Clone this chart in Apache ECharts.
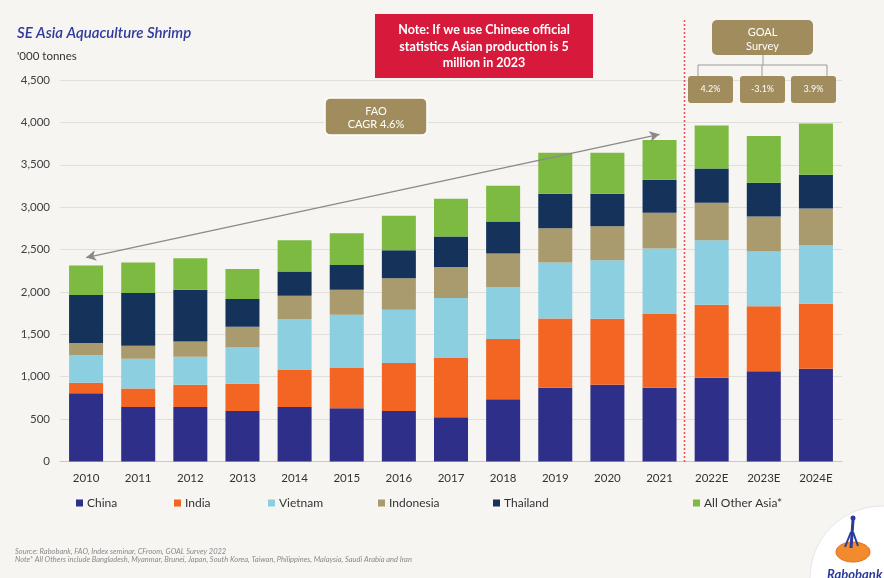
<!DOCTYPE html>
<html>
<head>
<meta charset="utf-8">
<script src="https://cdn.jsdelivr.net/npm/echarts@6/dist/echarts.min.js"></script>
<style>
  html, body { margin: 0; padding: 0; background: #f6f5f2; }
  #chart { width: 884px; height: 578px; }
</style>
</head>
<body>
<div id="chart"></div>
<script>
// Shrimp production, '000 tonnes
const years = ['2010','2011','2012','2013','2014','2015','2016','2017','2018','2019','2020','2021','2022E','2023E','2024E'];
const china     = [806, 644, 644, 597, 644, 629, 597, 522, 735, 869, 904, 869, 987, 1066, 1093];
const india     = [122, 217, 260, 319, 434, 480, 564, 698, 709, 819, 780, 871, 863, 764, 769];
const vietnam   = [327, 351, 331, 429, 603, 623, 630, 709, 615, 658, 689, 772, 760, 646, 693];
const indonesia = [142, 153, 181, 245, 275, 295, 370, 366, 394, 406, 402, 422, 442, 414, 430];
const thailand  = [567, 623, 611, 327, 284, 292, 331, 359, 378, 406, 383, 390, 405, 398, 398];
const otherAsia = [347, 358, 371, 355, 370, 374, 406, 445, 422, 485, 485, 468, 505, 551, 603];
const yTicks = [0, 500, 1000, 1500, 2000, 2500, 3000, 3500, 4000, 4500];

// FAO trend arrow end points (category, value)
const trendStart = ['2010', 2405];
const trendEnd = ['2021', 3859];

const goalRates = ['4.2%', '-3.1%', '3.9%'];

const FONT = 'Lato, "Open Sans", sans-serif';
const GOLD = '#a08c5d';

const seriesDefs = [
  { name: 'China', data: china, color: '#2e2f88' },
  { name: 'India', data: india, color: '#f26522' },
  { name: 'Vietnam', data: vietnam, color: '#8ccfe1' },
  { name: 'Indonesia', data: indonesia, color: '#a99b6e' },
  { name: 'Thailand', data: thailand, color: '#14325a' },
  { name: 'All Other Asia*', data: otherAsia, color: '#7dba42' }
];

const legendLefts = [76, 174, 268, 378, 493, 693];

const chart = echarts.init(document.getElementById('chart'), null, { renderer: 'canvas' });

const series = seriesDefs.map((s, i) => {
  const o = {
    name: s.name,
    type: 'bar',
    stack: 'total',
    data: s.data,
    barWidth: 34,
    itemStyle: { color: s.color },
    emphasis: { disabled: true },
    animation: false
  };
  if (i === 0) {
    o.markLine = {
      silent: true,
      symbol: ['arrow', 'arrow'],
      symbolSize: [8, 10],
      label: { show: false },
      lineStyle: { color: '#8a8a8a', width: 1.3, type: 'solid' },
      data: [[{ coord: trendStart }, { coord: trendEnd }]],
      animation: false
    };
  }
  return o;
});

const legends = seriesDefs.map((s, i) => ({
  data: [s.name],
  left: legendLefts[i],
  top: 497,
  padding: 0,
  itemWidth: 7,
  itemHeight: 7,
  icon: 'rect',
  itemGap: 4,
  selectedMode: false,
  textStyle: { fontFamily: FONT, fontSize: 12, color: '#333', padding: [0, 0, 0, -1] }
}));

const rateBoxes = [];
const rateX = [688, 740, 791];
goalRates.forEach((r, i) => {
  rateBoxes.push({
    type: 'rect', shape: { x: rateX[i], y: 76, width: 45, height: 27, r: 3 },
    style: { fill: GOLD }, z: 10
  });
  rateBoxes.push({
    type: 'text', x: rateX[i] + 22.5, y: 89.5,
    style: { text: r, fill: '#fff', font: '9px ' + FONT, textAlign: 'center', textVerticalAlign: 'middle' }, z: 11
  });
});

const option = {
  backgroundColor: '#f6f5f2',
  animation: false,
  grid: { left: 60, right: 42, top: 80, bottom: 116.5 },
  legend: legends,
  xAxis: {
    type: 'category',
    data: years,
    axisTick: { show: false },
    axisLine: { lineStyle: { color: '#c9c9c9' } },
    axisLabel: { fontFamily: FONT, fontSize: 11.5, color: '#333', margin: 11 }
  },
  yAxis: {
    type: 'value',
    min: yTicks[0],
    max: yTicks[yTicks.length - 1],
    interval: 500,
    axisLabel: {
      fontFamily: FONT, fontSize: 11.5, color: '#404040', margin: 10,
      formatter: v => v.toLocaleString('en-US')
    },
    splitLine: { lineStyle: { color: '#e0dfdc', width: 1 } },
    axisLine: { show: false },
    axisTick: { show: false }
  },
  series: series,
  graphic: [
    // title and unit
    { type: 'text', x: 17, y: 33, style: { text: 'SE Asia Aquaculture Shrimp', fill: '#2f3a9c', font: 'italic 600 15px ' + FONT, textVerticalAlign: 'middle' } },
    { type: 'text', x: 17, y: 56, style: { text: "'000 tonnes", fill: '#333', font: '11.5px ' + FONT, textVerticalAlign: 'middle' } },

    // red note box
    { type: 'rect', shape: { x: 375, y: 14, width: 218, height: 64 }, style: { fill: '#d71a3b' }, z: 10 },
    { type: 'text', x: 484, y: 30, style: { text: 'Note: If we use Chinese official', fill: '#fff', font: 'bold 12.5px ' + FONT, textAlign: 'center', textVerticalAlign: 'middle' }, z: 11 },
    { type: 'text', x: 484, y: 47, style: { text: 'statistics Asian production is 5', fill: '#fff', font: 'bold 12.5px ' + FONT, textAlign: 'center', textVerticalAlign: 'middle' }, z: 11 },
    { type: 'text', x: 484, y: 63, style: { text: 'million in 2023', fill: '#fff', font: 'bold 12.5px ' + FONT, textAlign: 'center', textVerticalAlign: 'middle' }, z: 11 },

    // forecast divider
    { type: 'line', shape: { x1: 684.5, y1: 20, x2: 684.5, y2: 462 }, style: { stroke: '#e9545f', lineWidth: 1.6, lineDash: [2, 2] }, z: 9 },

    // GOAL survey box and connectors
    { type: 'rect', shape: { x: 712, y: 20, width: 101, height: 35, r: 5 }, style: { fill: GOLD }, z: 10 },
    { type: 'text', x: 762.5, y: 32, style: { text: 'GOAL', fill: '#fff', font: '11px ' + FONT, textAlign: 'center', textVerticalAlign: 'middle' }, z: 11 },
    { type: 'text', x: 762.5, y: 46, style: { text: 'Survey', fill: '#fff', font: '11px ' + FONT, textAlign: 'center', textVerticalAlign: 'middle' }, z: 11 },
    { type: 'polyline', shape: { points: [[763, 55], [763, 65]] }, style: { stroke: '#9a9a9a', lineWidth: 1, fill: null }, z: 9 },
    { type: 'polyline', shape: { points: [[698, 76], [698, 65], [827, 65], [827, 76]] }, style: { stroke: '#9a9a9a', lineWidth: 1, fill: null }, z: 9 },
    { type: 'polyline', shape: { points: [[762, 65], [762, 76]] }, style: { stroke: '#9a9a9a', lineWidth: 1, fill: null }, z: 9 },
    ...rateBoxes,

    // FAO box
    { type: 'rect', shape: { x: 325, y: 98, width: 102, height: 37, r: 5 }, style: { fill: GOLD, stroke: '#fff', lineWidth: 1.5 }, z: 10 },
    { type: 'text', x: 376, y: 111, style: { text: 'FAO', fill: '#fff', font: '11px ' + FONT, textAlign: 'center', textVerticalAlign: 'middle' }, z: 11 },
    { type: 'text', x: 376, y: 124.5, style: { text: 'CAGR 4.6%', fill: '#fff', font: '11px ' + FONT, textAlign: 'center', textVerticalAlign: 'middle' }, z: 11 },

    // footnotes
    { type: 'text', x: 15, y: 552, style: { text: 'Source: Rabobank, FAO, Index seminar, CFroom, GOAL Survey 2022', fill: '#8a8a8a', font: 'italic 7.5px ' + FONT, textVerticalAlign: 'middle' } },
    { type: 'text', x: 15, y: 560, style: { text: 'Note* All Others include Bangladesh, Myanmar, Brunei, Japan, South Korea, Taiwan, Philippines, Malaysia, Saudi Arabia and Iran', fill: '#8a8a8a', font: 'italic 7.5px ' + FONT, textVerticalAlign: 'middle' } },

    // Rabobank mark
    { type: 'circle', shape: { cx: 882, cy: 578, r: 72 }, style: { fill: '#ffffff', stroke: '#e6e6e6', lineWidth: 1 }, z: 5 },
    { type: 'ellipse', shape: { cx: 853, cy: 552, rx: 17, ry: 10 }, style: { fill: '#f28a2e', stroke: '#e06d1a', lineWidth: 1 }, z: 6 },
    { type: 'line', shape: { x1: 853, y1: 520, x2: 851, y2: 548 }, style: { stroke: '#2b3b9a', lineWidth: 3 }, z: 7 },
    { type: 'line', shape: { x1: 851, y1: 532, x2: 845, y2: 547 }, style: { stroke: '#2b3b9a', lineWidth: 2 }, z: 7 },
    { type: 'line', shape: { x1: 853, y1: 532, x2: 858, y2: 546 }, style: { stroke: '#2b3b9a', lineWidth: 2 }, z: 7 },
    { type: 'circle', shape: { cx: 853, cy: 518, r: 2.5 }, style: { fill: '#2b3b9a' }, z: 7 },
    { type: 'text', x: 827, y: 575, style: { text: 'Rabobank', fill: '#2b3b9a', font: 'italic bold 13px ' + FONT, textVerticalAlign: 'middle' }, z: 7 }
  ]
};

chart.setOption(option);
</script>
</body>
</html>
